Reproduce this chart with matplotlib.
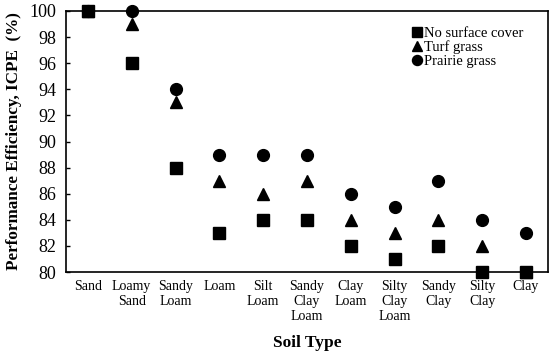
import numpy as np
import matplotlib.pyplot as plt

plt.rcParams['font.family'] = ['Liberation Serif', 'DejaVu Serif']

soil_types = ['Sand', 'Loamy\nSand', 'Sandy\nLoam', 'Loam', 'Silt\nLoam',
              'Sandy\nClay\nLoam', 'Clay\nLoam', 'Silty\nClay\nLoam',
              'Sandy\nClay', 'Silty\nClay', 'Clay']
no_cover = [100, 96, 88, 83, 84, 84, 82, 81, 82, 80, 80]
turf_grass = [100, 99, 93, 87, 86, 87, 84, 83, 84, 82, 80]
prairie_grass = [100, 100, 94, 89, 89, 89, 86, 85, 87, 84, 83]

fig = plt.figure(figsize=(5.5, 3.52), dpi=100)
ax = fig.add_axes([0.12, 0.227, 0.876, 0.742])

x = np.arange(len(soil_types))
ax.plot(x, no_cover, 's', color='black', markersize=8.5, label='No surface cover', clip_on=False, zorder=3)
ax.plot(x, turf_grass, '^', color='black', markersize=8.5, label='Turf grass', clip_on=False, zorder=3)
ax.plot(x, prairie_grass, 'o', color='black', markersize=8.5, label='Prairie grass', clip_on=False, zorder=3)

ax.set_xlim(-0.5, len(soil_types) - 0.5)
ax.set_ylim(80, 100)
ax.set_yticks(range(80, 101, 2))
ax.set_xticks(x)
ax.set_xticklabels(soil_types, fontsize=10, linespacing=1.2, va='top')
ax.tick_params(axis='x', length=0, pad=6)
ax.tick_params(axis='y', direction='in', length=3, width=1, pad=7, labelsize=13)
for s in ax.spines.values():
    s.set_linewidth(1.2)

ax.set_xlabel('Soil Type', fontsize=12.5, fontweight='bold', labelpad=8)
ax.set_ylabel('Performance Efficiency, ICPE  (%)', fontsize=12.3, fontweight='bold', labelpad=5)

# legend sits inside the upper right, no frame
ax.legend(loc='upper left', bbox_to_anchor=(0.705, 0.968), frameon=False, fontsize=10.5,
          handlelength=0.6, handletextpad=0.15, labelspacing=0.05, borderpad=0,
          markerscale=0.85)

fig.savefig('out.png', dpi=100)
